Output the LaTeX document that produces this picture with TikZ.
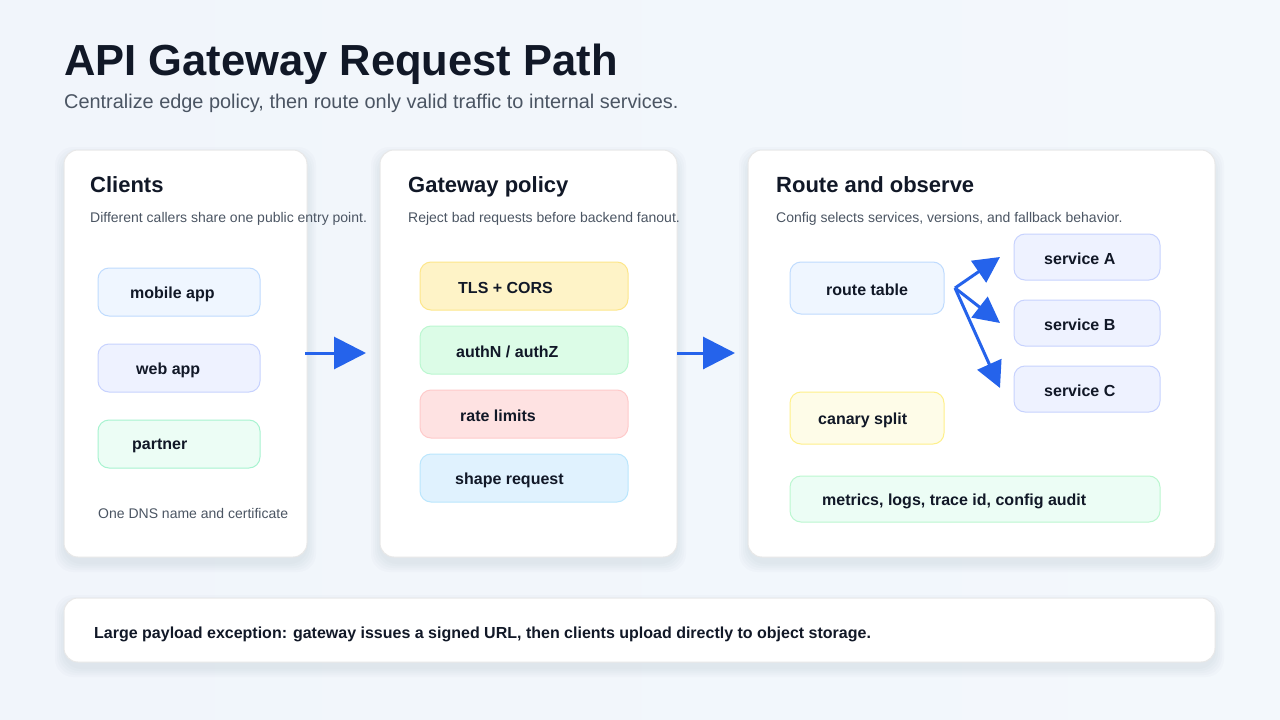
\documentclass[tikz,border=0pt]{standalone}
\usepackage{fontspec}
\setmainfont{Liberation Sans}
\usetikzlibrary{arrows.meta}
\definecolor{ink}{HTML}{111827}
\definecolor{sub}{HTML}{4B5563}
\definecolor{arr}{HTML}{2563EB}
\definecolor{bgL}{HTML}{F1F5FB}
\definecolor{bgR}{HTML}{F3F8FC}
\definecolor{shd}{HTML}{64748B}
\definecolor{bBlue}{HTML}{BFDBFE}\definecolor{fBlue}{HTML}{EFF6FF}
\definecolor{bInd}{HTML}{C7D2FE}\definecolor{fInd}{HTML}{EEF2FF}
\definecolor{bTeal}{HTML}{A7F3D0}\definecolor{fTeal}{HTML}{ECFDF5}
\definecolor{bAmb}{HTML}{FDE68A}\definecolor{fAmb}{HTML}{FEF3C7}
\definecolor{bGrn}{HTML}{BBF7D0}\definecolor{fGrn}{HTML}{DCFCE7}
\definecolor{bRed}{HTML}{FECACA}\definecolor{fRed}{HTML}{FEE2E2}
\definecolor{bSky}{HTML}{BAE6FD}\definecolor{fSky}{HTML}{E0F2FE}
\definecolor{bYel}{HTML}{FEF08A}\definecolor{fYel}{HTML}{FEFCE8}
\tikzset{
 panel/.style={draw=black!9,line width=1pt,fill=white,rounded corners=14pt},
 shadowlayer/.style={fill=shd,fill opacity=0.025,rounded corners=18pt},
 box/.style={line width=1pt,rounded corners=11pt},
 lbl/.style={anchor=west,inner sep=0pt,text=ink,font=\fontsize{16}{19}\selectfont\bfseries},
 head/.style={anchor=base west,inner sep=0pt,text=ink,font=\fontsize{22}{26}\selectfont\bfseries},
 desc/.style={anchor=base west,inner sep=0pt,text=sub,font=\fontsize{14}{17}\selectfont},
 flow/.style={draw=arr,line width=3pt,-{Triangle[length=32pt,width=32pt]}},
 fan/.style={draw=arr,line width=3pt,-{Triangle[length=26pt,width=26pt]}},
}
\newcommand{\softpanel}[4]{%
  \foreach \d in {1,3,5,7,9}{\fill[shadowlayer] (#1-\d,#2-\d+6) rectangle (#3+\d,#4+\d+6);}
  \path[panel] (#1,#2) rectangle (#3,#4);}
\begin{document}
\begin{tikzpicture}[x=1pt,y=-1pt]
\shade[left color=bgL,right color=bgR] (0,0) rectangle (1280,720);
\useasboundingbox (0,0) rectangle (1280,720);
\node[anchor=base west,inner sep=0pt,text=ink,font=\fontsize{43.5}{52}\selectfont\bfseries] (title) at (64,75) {API Gateway Request Path};
\node[anchor=base west,inner sep=0pt,text=sub,font=\fontsize{19.9}{24}\selectfont] (subtitle) at (64,108) {Centralize edge policy, then route only valid traffic to internal services.};
% panels
\softpanel{64}{150}{307}{557}
\softpanel{380}{150}{677}{557}
\softpanel{748}{150}{1215}{557}
\softpanel{64}{598}{1215}{662}
\node[head] (h1) at (90,192) {Clients};
\node[desc] (d1) at (90,222) {Different callers share one public entry point.};
\node[head] (h2) at (408,192) {Gateway policy};
\node[desc] (d2) at (408,222) {Reject bad requests before backend fanout.};
\node[head] (h3) at (776,192) {Route and observe};
\node[desc] (d3) at (776,222) {Config selects services, versions, and fallback behavior.};
% clients
\path[box,draw=bBlue,fill=fBlue] (98,268) rectangle (260,316);
\node[lbl] (mobile) at (130,294) {mobile app};
\path[box,draw=bInd,fill=fInd] (98,344) rectangle (260,392);
\node[lbl] (web) at (136,370) {web app};
\path[box,draw=bTeal,fill=fTeal] (98,420) rectangle (260,468);
\node[lbl] (partner) at (132,446) {partner};
\node[desc] (foot) at (98,518) {One DNS name and certificate};
% gateway
\path[box,draw=bAmb,fill=fAmb] (420,262) rectangle (628,310);
\node[lbl] (tls) at (458,288) {TLS + CORS};
\path[box,draw=bGrn,fill=fGrn] (420,326) rectangle (628,374);
\node[lbl] (auth) at (456,352) {authN / authZ};
\path[box,draw=bRed,fill=fRed] (420,390) rectangle (628,438);
\node[lbl] (rate) at (460,416) {rate limits};
\path[box,draw=bSky,fill=fSky] (420,454) rectangle (628,502);
\node[lbl] (shape) at (455,480) {shape request};
% route
\path[box,draw=bBlue,fill=fBlue] (790,262) rectangle (944,314);
\node[lbl] (route) at (826,290) {route table};
\path[box,draw=bInd,fill=fInd] (1014,234) rectangle (1160,280);
\node[lbl] (sa) at (1044,259) {service A};
\path[box,draw=bInd,fill=fInd] (1014,300) rectangle (1160,346);
\node[lbl] (sb) at (1044,325) {service B};
\path[box,draw=bInd,fill=fInd] (1014,366) rectangle (1160,412);
\node[lbl] (sc) at (1044,391) {service C};
\path[box,draw=bYel,fill=fYel] (790,392) rectangle (944,444);
\node[lbl] (canary) at (818,420) {canary split};
\path[box,draw=bGrn,fill=fTeal] (790,476) rectangle (1160,522);
\node[lbl] (metrics) at (822,501) {metrics, logs, trace id, config audit};
% bottom
\node[lbl,font=\fontsize{16}{19}\selectfont\bfseries] (note) at (94,634) {Large payload exception: gateway issues a signed URL, then clients upload directly to object storage.};
% arrows
\coordinate (a1s) at (305,353); \coordinate (a1e) at (366,353);
\coordinate (a2s) at (677,353); \coordinate (a2e) at (735,353);
\draw[flow] (a1s) -- (a1e);
\draw[flow] (a2s) -- (a2e);
\coordinate (rt) at (955,288);
\coordinate (ta) at (1000,257); \coordinate (tb) at (1000,323); \coordinate (tc) at (1000,388);
\draw[fan] (rt) -- (ta);
\draw[fan] (rt) -- (tb);
\draw[fan] (rt) -- (tc);
\end{tikzpicture}
\end{document}
